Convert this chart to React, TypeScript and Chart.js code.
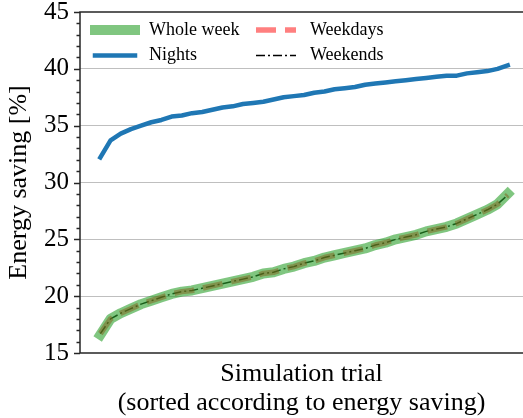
import React, { useEffect, useRef } from "react";
import { Chart, registerables } from "chart.js";

Chart.register(...registerables);

const trialIndex = [
  0, 1, 2, 3, 4, 5, 6, 7, 8, 9, 10, 11, 12, 13, 14, 15, 16, 17, 18, 19, 20,
  21, 22, 23, 24, 25, 26, 27, 28, 29, 30, 31, 32, 33, 34, 35, 36, 37, 38, 39, 40,
];

const wholeWeek = [
  16.6, 18.0, 18.5, 18.9, 19.3, 19.6, 19.9, 20.2, 20.4, 20.5, 20.7, 20.9, 21.1,
  21.3, 21.5, 21.7, 22.0, 22.1, 22.4, 22.6, 22.9, 23.1, 23.4, 23.6, 23.8, 24.0,
  24.2, 24.5, 24.7, 25.0, 25.2, 25.4, 25.7, 25.9, 26.1, 26.4, 26.8, 27.2, 27.6,
  28.1, 29.0,
];

const weekdays = [
  16.7, 18.0, 18.5, 18.9, 19.3, 19.6, 19.9, 20.2, 20.4, 20.5, 20.7, 20.9, 21.1,
  21.3, 21.5, 21.7, 22.0, 22.1, 22.4, 22.6, 22.9, 23.1, 23.4, 23.6, 23.8, 24.0,
  24.2, 24.5, 24.7, 25.0, 25.2, 25.4, 25.7, 25.9, 26.1, 26.4, 26.8, 27.2, 27.6,
  28.1, 28.9,
];

const weekends = [
  16.7, 18.0, 18.5, 18.9, 19.3, 19.6, 19.9, 20.2, 20.4, 20.5, 20.7, 20.9, 21.1,
  21.3, 21.5, 21.7, 22.0, 22.1, 22.4, 22.6, 22.9, 23.1, 23.4, 23.6, 23.8, 24.0,
  24.2, 24.5, 24.7, 25.0, 25.2, 25.4, 25.7, 25.9, 26.1, 26.4, 26.8, 27.2, 27.6,
  28.1, 28.9,
];

const nights = [
  32.2, 33.7, 34.3, 34.7, 35.0, 35.3, 35.5, 35.8, 35.9, 36.1, 36.2, 36.4, 36.6,
  36.7, 36.9, 37.0, 37.1, 37.3, 37.5, 37.6, 37.7, 37.9, 38.0, 38.2, 38.3, 38.4,
  38.6, 38.7, 38.8, 38.9, 39.0, 39.1, 39.2, 39.3, 39.4, 39.4, 39.6, 39.7, 39.8,
  40.0, 40.3,
];

const yMin = 15;
const yMax = 45;
const yMajorStep = 5;
const yMinorStep = 1;

const FONT = "'Liberation Serif', 'Times New Roman', serif";

const toPoints = (vals: number[]) => trialIndex.map((t, i) => ({ x: t, y: vals[i] }));

const framePlugin = {
  id: "frame",
  afterDraw(chart: any) {
    const { ctx, chartArea, scales } = chart;
    const { left, right, top, bottom } = chartArea;
    const y = scales.y;
    ctx.save();
    ctx.strokeStyle = "#262626";
    ctx.lineWidth = 1.5;
    for (let v = yMin; v <= yMax; v += yMinorStep) {
      const py = Math.round(y.getPixelForValue(v)) + 0.5;
      const len = v % yMajorStep === 0 ? 6 : 3.5;
      ctx.beginPath();
      ctx.moveTo(left - len, py);
      ctx.lineTo(left, py);
      ctx.stroke();
    }
    ctx.beginPath();
    ctx.moveTo(right + 5, top);
    ctx.lineTo(left, top);
    ctx.lineTo(left, bottom);
    ctx.lineTo(right + 5, bottom);
    ctx.stroke();

    // legend (2 columns, column-major)
    const colHandle = [95, 256];
    const colText = [149, 310];
    const rowY = [30, 55.5];
    const handleLen = 40;
    ctx.font = `18px ${FONT}`;
    ctx.textBaseline = "middle";
    ctx.textAlign = "left";
    chart.data.datasets.forEach((ds: any, i: number) => {
      const col = i < 2 ? 0 : 1;
      const row = i % 2;
      const yy = rowY[row];
      ctx.save();
      ctx.strokeStyle = ds.borderColor;
      ctx.lineWidth = ds.borderWidth;
      ctx.lineCap = ds.borderCapStyle || "butt";
      ctx.setLineDash(ds.borderDash || []);
      ctx.beginPath();
      ctx.moveTo(colHandle[col], yy);
      ctx.lineTo(colHandle[col] + handleLen, yy);
      ctx.stroke();
      ctx.restore();
      ctx.fillStyle = "#000";
      ctx.fillText(ds.label, colText[col], yy);
    });
    ctx.restore();
  },
};

export default function App() {
  const ref = useRef<HTMLCanvasElement | null>(null);

  useEffect(() => {
    if (!ref.current) return;
    const chart = new Chart(ref.current, {
      type: "line",
      data: {
        datasets: [
          {
            label: "Whole week",
            data: toPoints(wholeWeek),
            borderColor: "rgba(44,160,44,0.6)",
            borderWidth: 10,
            borderCapStyle: "square",
            borderJoinStyle: "round",
            pointRadius: 0,
            tension: 0,
            fill: false,
          },
          {
            label: "Nights",
            data: toPoints(nights),
            borderColor: "#1f77b4",
            borderWidth: 4.5,
            borderCapStyle: "square",
            borderJoinStyle: "round",
            pointRadius: 0,
            tension: 0,
            fill: false,
          },
          {
            label: "Weekdays",
            data: toPoints(weekdays),
            borderColor: "rgba(255,0,0,0.5)",
            borderWidth: 5.5,
            borderDash: [20, 9],
            borderCapStyle: "butt",
            borderJoinStyle: "round",
            pointRadius: 0,
            tension: 0,
            fill: false,
          },
          {
            label: "Weekends",
            data: toPoints(weekends),
            borderColor: "#000000",
            borderWidth: 1.5,
            borderDash: [9, 3, 2, 3],
            borderCapStyle: "butt",
            borderJoinStyle: "round",
            pointRadius: 0,
            tension: 0,
            fill: false,
          },
        ],
      },
      options: {
        responsive: false,
        animation: false,
        devicePixelRatio: 1,
        layout: { padding: { top: 12, left: 0, right: 0, bottom: 0 } },
        plugins: {
          legend: { display: false },
          tooltip: { enabled: false },
        },
        scales: {
          x: {
            type: "linear",
            min: -2,
            max: 41.5,
            ticks: { display: false },
            grid: { display: false, drawTicks: false },
            border: { display: false },
            title: {
              display: true,
              text: ["Simulation trial", "(sorted according to energy saving)"],
              color: "#000",
              font: { family: FONT, size: 26, lineHeight: 29 / 26 },
              padding: { top: 0, bottom: 0.5 },
            },
            afterFit: (s: any) => {
              s.height = 65;
              s.paddingLeft = 0;
              s.paddingRight = 0;
            },
          },
          y: {
            min: yMin,
            max: yMax,
            ticks: {
              stepSize: yMajorStep,
              padding: 11,
              color: "#000",
              font: { family: FONT, size: 25 },
            },
            grid: {
              drawTicks: false,
              lineWidth: 1,
              color: (c: any) =>
                c.tick && c.tick.value > yMin && c.tick.value < yMax ? "#bfbfbf" : "rgba(0,0,0,0)",
            },
            border: { display: false },
            title: {
              display: true,
              text: "Energy saving [%]",
              color: "#000",
              font: { family: FONT, size: 26, lineHeight: 1.2 },
              padding: { top: 4, bottom: 0 },
            },
            afterFit: (s: any) => {
              s.width = 80;
              s.paddingTop = 0;
              s.paddingBottom = 0;
            },
          },
        },
      },
      plugins: [framePlugin],
    } as any);
    return () => chart.destroy();
  }, []);

  return (
    <div style={{ position: "fixed", left: 0, top: 0, width: 523, height: 418, background: "#fff" }}>
      <canvas ref={ref} width={523} height={418} style={{ display: "block" }} />
    </div>
  );
}
